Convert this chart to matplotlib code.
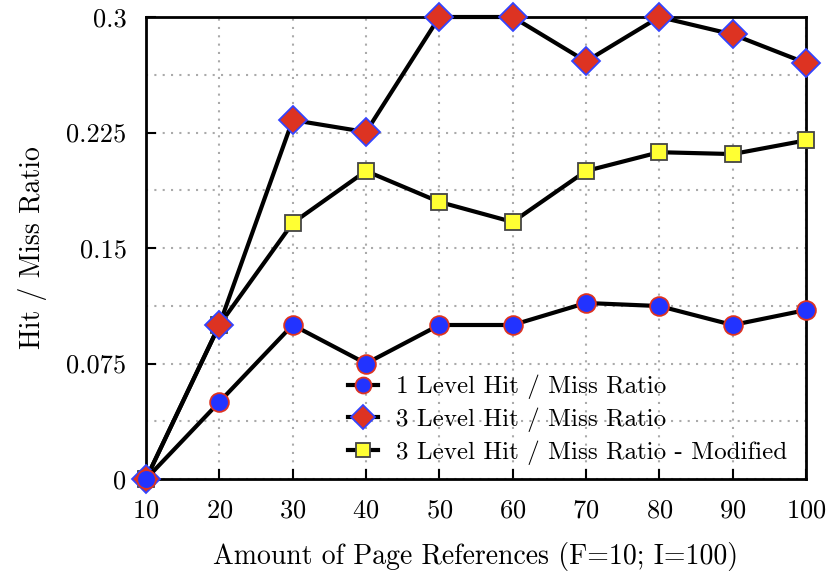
import matplotlib
matplotlib.use('Agg')
import matplotlib.pyplot as plt
import numpy as np

plt.rcParams['font.family'] = ['cmr10', 'DejaVu Serif']
plt.rcParams['axes.formatter.use_mathtext'] = True
plt.rcParams['mathtext.fontset'] = 'cm'

# data
page_refs = [10, 20, 30, 40, 50, 60, 70, 80, 90, 100]
level1 = [0.0, 0.05, 0.1, 0.075, 0.1, 0.1, 0.1143, 0.1123, 0.1, 0.1097]
level3 = [0.0, 0.1, 0.2331, 0.2253, 0.3, 0.3, 0.2712, 0.3, 0.2887, 0.2701]
level3_mod = [0.0, 0.1, 0.1662, 0.2, 0.1799, 0.1669, 0.2, 0.2122, 0.211, 0.2199]

y_ticks = [0, 0.075, 0.15, 0.225, 0.3]
y_tick_labels = ['0', '0.075', '0.15', '0.225', '0.3']

fig = plt.figure(figsize=(8.28, 5.8), dpi=100)
ax = fig.add_axes([146/828, 1 - 479/580, 660/828, 462/580])

# squares first, then diamonds, circles on top
l3m, = ax.plot(page_refs, level3_mod, color='black', lw=3, marker='s', ms=12,
               mfc='#ffff33', mec='#444444', mew=1.3, clip_on=False, zorder=3,
               label='3 Level Hit / Miss Ratio - Modified')
l3, = ax.plot(page_refs, level3, color='black', lw=3, marker='D', ms=14,
              mfc='#dd3322', mec='#3344ff', mew=1.3, clip_on=False, zorder=4,
              label='3 Level Hit / Miss Ratio')
l1, = ax.plot(page_refs, level1, color='black', lw=3, marker='o', ms=13.5,
              mfc='#2233ff', mec='#dd3322', mew=1.3, clip_on=False, zorder=5,
              label='1 Level Hit / Miss Ratio')

ax.set_xlim(10, 100)
ax.set_ylim(0, 0.3)
ax.set_xticks(page_refs)
ax.set_yticks(y_ticks)
ax.set_yticklabels(y_tick_labels)
ax.set_yticks(np.arange(0, 0.3001, 0.0375), minor=True)
ax.tick_params(which='minor', length=0)
ax.tick_params(which='major', direction='in', length=7, width=1.5,
               labelsize=19)
ax.tick_params(axis='y', pad=14)
ax.tick_params(axis='x', pad=14)
ax.grid(True, which='both', color='#aaaaaa', linestyle=(0, (1, 3)), lw=1.5)
for s in ax.spines.values():
    s.set_linewidth(2)

ax.set_xlabel('Amount of Page References (F=10; I=100)', fontsize=20, labelpad=14)
ax.set_ylabel('Hit / Miss Ratio', fontsize=20, labelpad=14)

ax.legend(handles=[l1, l3, l3m], loc='lower right', bbox_to_anchor=(1.005, -0.018),
          frameon=False, fontsize=18, handlelength=1.2, handletextpad=0.7,
          labelspacing=0.33, markerscale=0.85)

fig.savefig('out.png', dpi=100)
